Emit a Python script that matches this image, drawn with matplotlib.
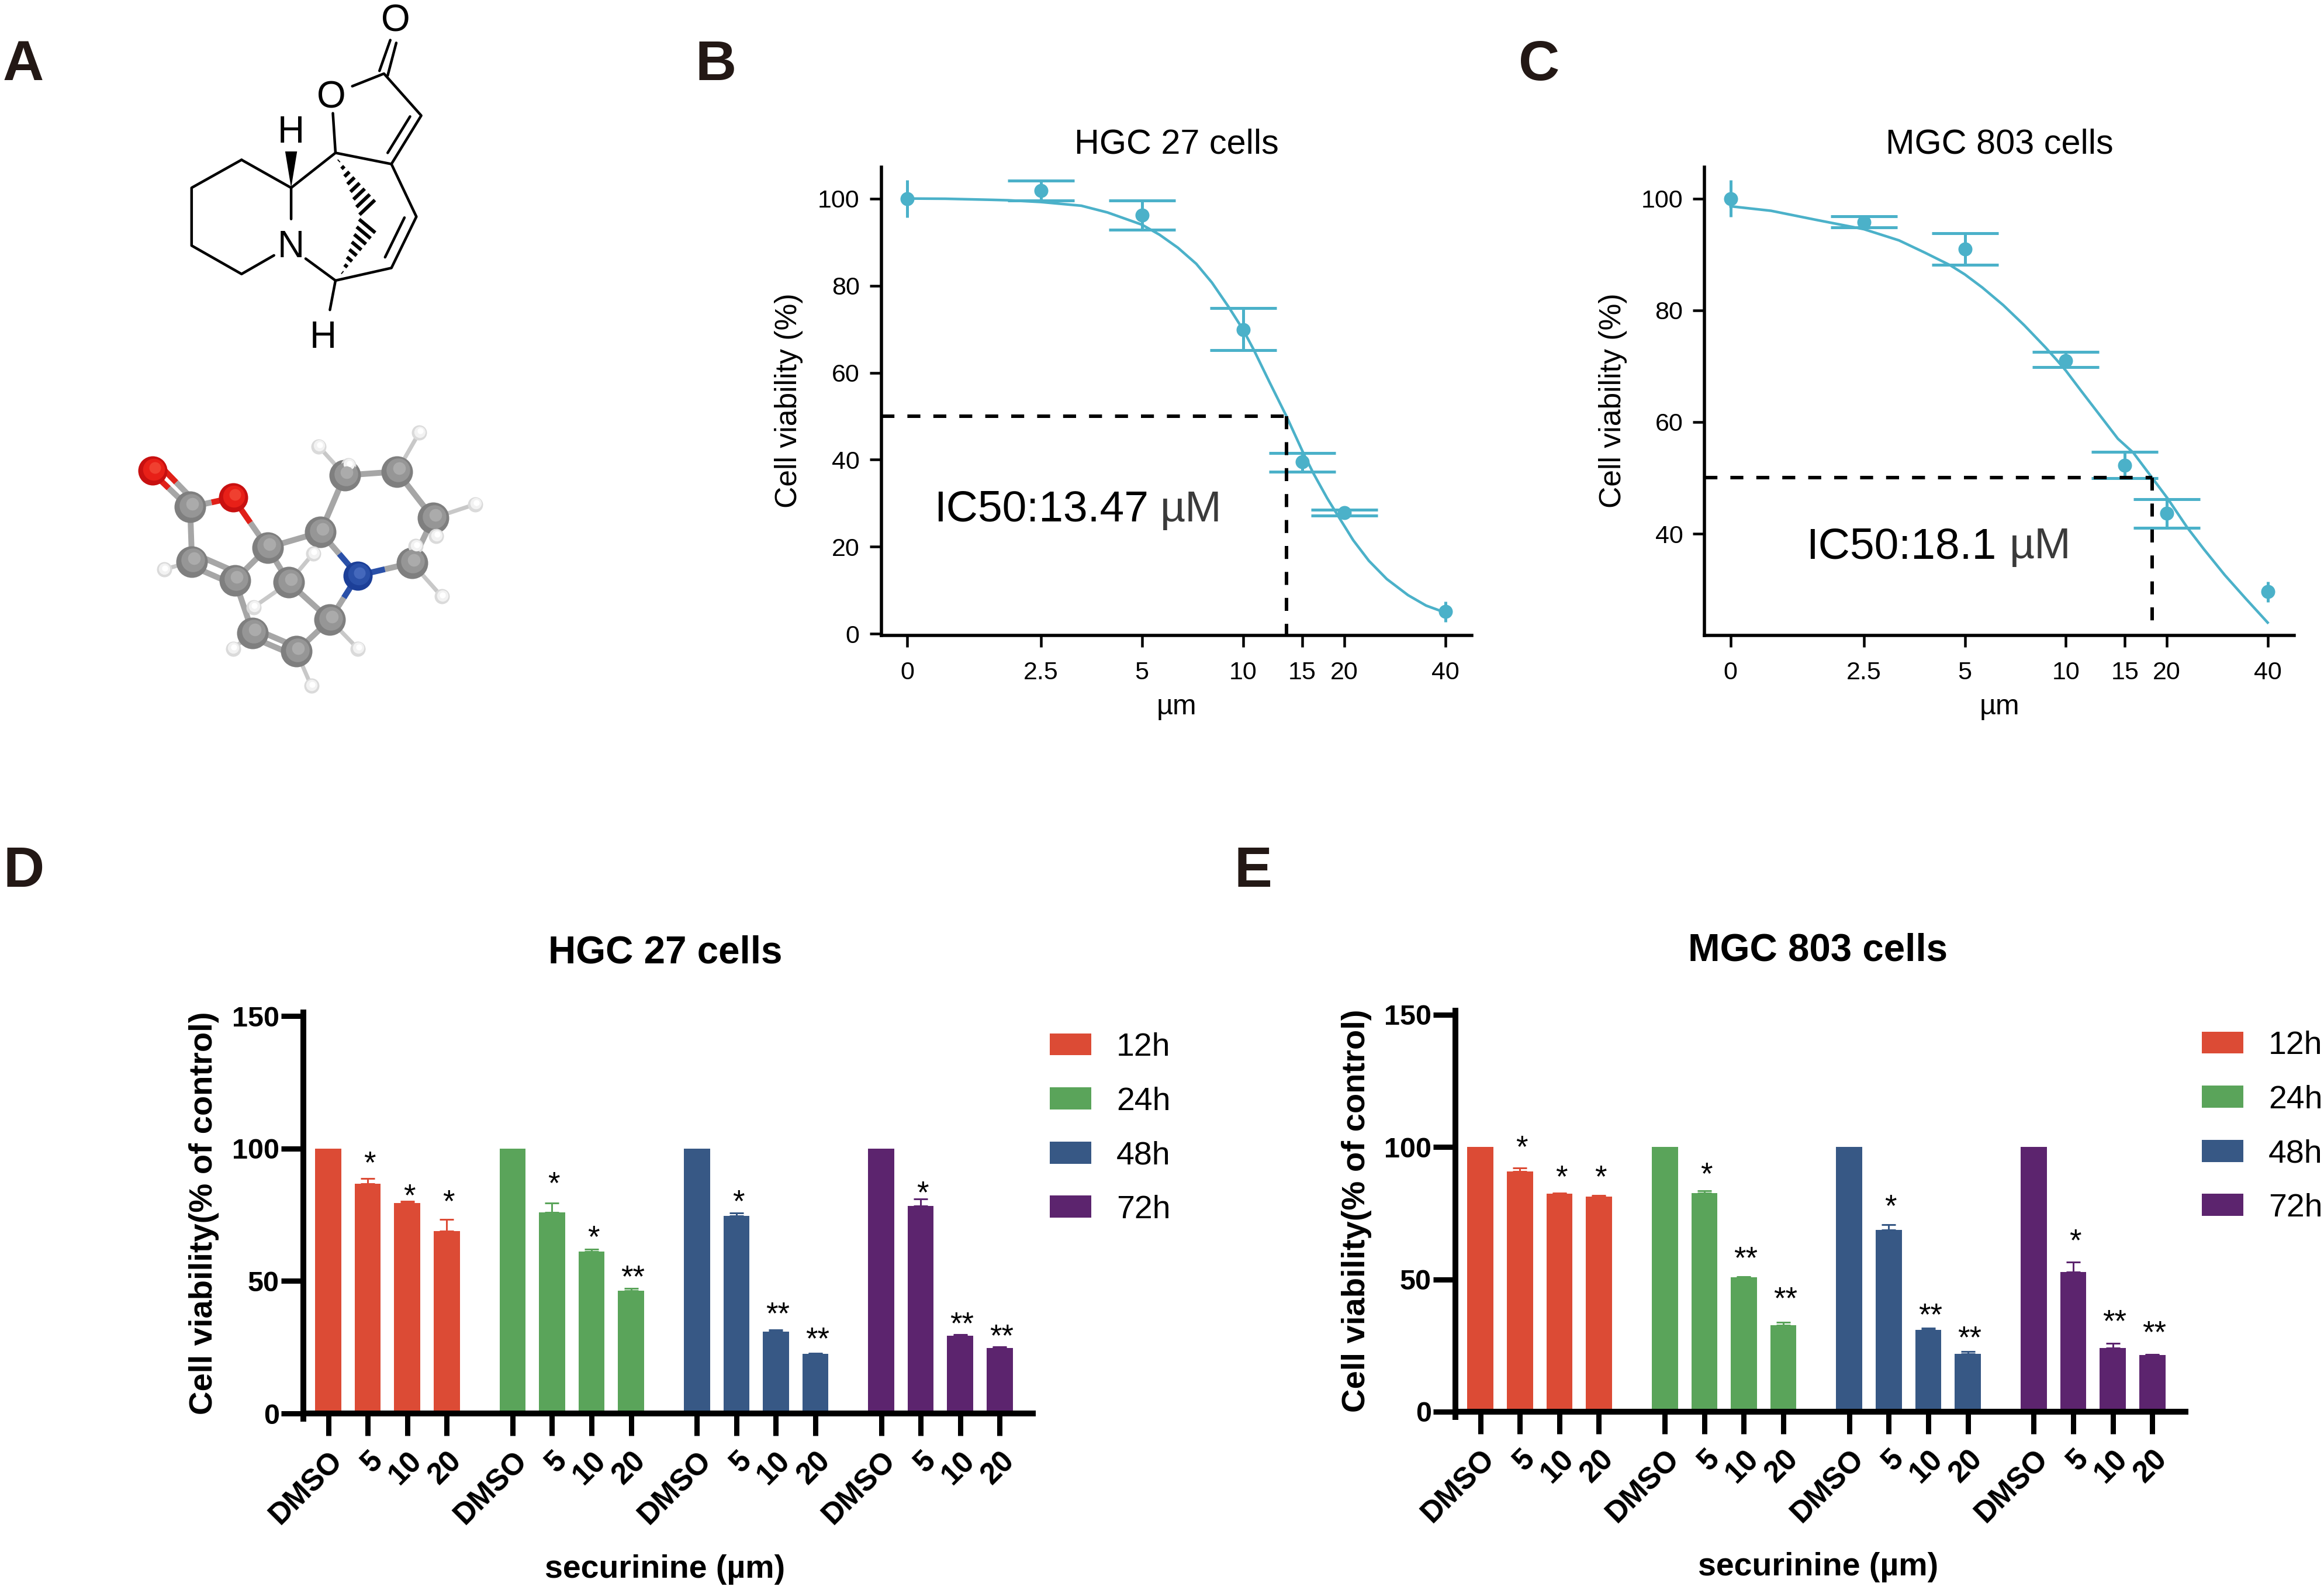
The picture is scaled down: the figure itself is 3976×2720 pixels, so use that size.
import numpy as np
import matplotlib
matplotlib.use('Agg')
import matplotlib.pyplot as plt
from matplotlib.patches import Patch, Polygon
from matplotlib.ticker import NullLocator
from matplotlib.transforms import ScaledTranslation

plt.rcParams['font.family'] = ['Liberation Sans', 'DejaVu Sans']

W, H = 3976, 2720
DPI = 200
PX = 72 / DPI   # one output pixel in points

# ---- dose response data (panels B, C)
dose_ticks = [0, 2.5, 5, 10, 15, 20, 40]
dose_labels = ['0', '2.5', '5', '10', '15', '20', '40']

b_mean = [100, 101.8, 96.2, 69.9, 39.5, 27.8, 5.1]
b_low = [95.7, 99.5, 92.8, 65.2, 37.3, 27.2, 2.7]
b_high = [104.3, 104.1, 99.5, 74.8, 41.6, 28.5, 7.5]
b_curve_x = [0, 1.3, 1.79, 2.0, 2.5, 3.3, 3.95, 5, 5.64, 6.4, 7.26, 8.08, 9.08, 10, 10.76, 11.98, 13.47, 15.13,
             16.2, 17.8, 19.3, 21.3, 23.7, 26.8, 31, 35.1, 40]
b_curve_y = [100, 99.95, 99.7, 99.6, 99.2, 98.35, 96.8, 94, 91.7, 88.7, 85, 80.7, 75, 69.9, 65.3, 57.9, 50, 41.5,
             36.9, 31.2, 26.8, 21.5, 16.8, 12.6, 8.9, 6.5, 4.9]
b_ic50 = 13.47

c_mean = [100, 95.8, 91, 71, 52.2, 43.7, 29.6]
c_low = [96.7, 94.8, 88.1, 69.8, 49.9, 41, 27.8]
c_high = [103.3, 96.8, 93.8, 72.5, 54.6, 46.2, 31.4]
c_curve_x = [0, 1.32, 1.79, 2.5, 3.18, 3.8, 4.52, 5, 5.64, 6.51, 7.52, 8.68, 9.33, 10, 11.1, 12.6, 14.3, 15.9,
             18.1, 20.1, 23, 25.8, 29.8, 34.4, 40]
c_curve_y = [98.6, 97.8, 96.2, 94.5, 92.5, 90.3, 88.05, 86.4, 84.05, 80.9, 77.3, 73.4, 71.3, 69.2, 65.6, 61.3, 57,
             54.5, 50, 46.35, 41.15, 37.25, 32.6, 28.4, 24.1]
c_ic50 = 18.1

# ---- bar data (panels D, E)
times = ['12h', '24h', '48h', '72h']
conc = ['DMSO', '5', '10', '20']
bar_colors = ['#DC4B35', '#5AA45A', '#375885', '#5C246E']

d_12h = [100, 86.8, 79.5, 68.8]
d_24h = [100, 76, 61.2, 46.3]
d_48h = [100, 74.7, 30.9, 22.5]
d_72h = [100, 78.3, 29.4, 24.7]
d_12h_top = [100, 88.7, 80.2, 73.2]
d_24h_top = [100, 79.5, 62, 47.3]
d_48h_top = [100, 75.8, 31.5, 22.8]
d_72h_top = [100, 81, 29.7, 25.2]
d_marks = [['', '*', '*', '*'], ['', '*', '*', '**'], ['', '*', '**', '**'], ['', '*', '**', '**']]
d_mark_y = [[0, 95.3, 82.9, 80.7], [0, 87.6, 67.3, 52.1], [0, 80.7, 38.2, 28.8], [0, 83.9, 34.6, 29.9]]

e_12h = [100, 90.9, 82.3, 81.3]
e_24h = [100, 82.7, 50.8, 32.6]
e_48h = [100, 68.8, 30.9, 21.8]
e_72h = [100, 52.7, 24, 21.4]
e_12h_top = [100, 92.2, 82.6, 81.8]
e_24h_top = [100, 83.5, 51.1, 33.8]
e_48h_top = [100, 70.6, 31.6, 22.8]
e_72h_top = [100, 56.5, 25.9, 21.7]
e_marks = [['', '*', '*', '*'], ['', '*', '**', '**'], ['', '*', '**', '**'], ['', '*', '**', '**']]
e_mark_y = [[0, 100.7, 89.3, 89.3], [0, 90.5, 58.6, 43.3], [0, 78.2, 37.2, 28.6], [0, 65.3, 34.8, 30.5]]

# ---- molecule drawing, panel A (coordinates on a 1568 x 1568 sketch grid)
skeleton = [[(648, 343), (514, 403), (514, 527), (648, 588), (735, 548)],
            [(648, 343), (781, 403), (781, 470)],
            [(781, 403), (900, 328), (893, 243)],
            [(945, 185), (1030, 158), (1130, 248), (1050, 352), (900, 328)],
            [(1100, 250), (1040, 328)],
            [(1050, 352), (1117, 465), (1050, 575), (900, 602), (820, 555)],
            [(1085, 467), (1033, 552)],
            [(900, 602), (885, 665)],
            [(1018, 152), (1047, 86)],
            [(1040, 162), (1063, 92)]]
atom_labels = [('O', 1062, 46), ('O', 888, 210), ('H', 781, 285), ('N', 781, 530), ('H', 867, 725)]

carbons = [(510, 1088), (515, 1205), (630, 1245), (718, 1175), (860, 1142), (925, 1020), (1065, 1012),
           (1162, 1112), (1105, 1208), (775, 1250), (885, 1330), (678, 1358), (795, 1398)]
oxygens = [(410, 1010), (625, 1068)]
nitrogens = [(960, 1235)]
hydrogens = [(855, 958), (935, 998), (1125, 928), (1275, 1082), (1170, 1150), (1115, 1172), (1185, 1280),
             (960, 1392), (840, 1188), (680, 1303), (440, 1222), (625, 1392), (835, 1472)]
sticks = [((510, 1088), (515, 1205)), ((630, 1245), (718, 1175)), ((718, 1175), (860, 1142)),
          ((718, 1175), (775, 1250)), ((860, 1142), (925, 1020)), ((925, 1020), (1065, 1012)),
          ((1065, 1012), (1162, 1112)), ((1162, 1112), (1105, 1208)), ((775, 1250), (885, 1330)),
          ((885, 1330), (795, 1398)), ((678, 1358), (630, 1245)), ((515, 1215), (630, 1255)),
          ((525, 1190), (640, 1230)), ((795, 1388), (678, 1348)), ((795, 1408), (678, 1368))]
color_sticks = [((510, 1088), (625, 1068), '#E02018'), ((718, 1175), (625, 1068), '#E02018'),
                ((495, 1080), (410, 1015), '#E02018'), ((515, 1070), (430, 1000), '#E02018'),
                ((1105, 1208), (960, 1235), '#2A50A8'), ((860, 1142), (960, 1235), '#2A50A8'),
                ((885, 1330), (960, 1235), '#2A50A8')]
h_bonds = [((925, 1020), (855, 958)), ((925, 1020), (935, 998)), ((1065, 1012), (1125, 928)),
           ((1162, 1112), (1275, 1082)), ((1162, 1112), (1170, 1150)), ((1105, 1208), (1115, 1172)),
           ((1105, 1208), (1185, 1280)), ((885, 1330), (960, 1392)), ((775, 1250), (840, 1188)),
           ((775, 1250), (680, 1303)), ((515, 1205), (440, 1222)), ((678, 1358), (625, 1392)),
           ((795, 1398), (835, 1472))]


def px_axes(left, top, right, bottom):
    return fig.add_axes([left / W, 1 - bottom / H, (right - left) / W, (bottom - top) / H])


def fig_text(x, y, s, **kw):
    kw.setdefault('ha', 'center')
    kw.setdefault('va', 'center')
    return fig.text(x / W, 1 - y / H, s, **kw)


def plot_x(values):
    # zero dose sits at 1 on the log axis
    return [v if v > 0 else 1 for v in values]


def dose_panel(ax, ylim, yticks, mean, low, high, cx, cy, ic50, dash_bottom):
    teal = '#4BB1C9'
    x = np.array(plot_x(dose_ticks))
    mean, low, high = np.array(mean), np.array(low), np.array(high)
    ax.set_xscale('log', base=2)
    ax.set_xlim(0.837, 48)
    ax.set_ylim(*ylim)
    ax.plot(plot_x(cx), cy, color=teal, lw=4.5 * PX, zorder=2)
    ax.errorbar(x[1:-1], mean[1:-1], yerr=[mean[1:-1] - low[1:-1], high[1:-1] - mean[1:-1]], fmt='none',
                ecolor=teal, elinewidth=5 * PX, capsize=57 * PX, capthick=5 * PX, zorder=2)
    ax.errorbar(x[[0, -1]], mean[[0, -1]], yerr=[(mean - low)[[0, -1]], (high - mean)[[0, -1]]], fmt='none',
                ecolor=teal, elinewidth=5 * PX, zorder=2)
    ax.plot(x, mean, 'o', color=teal, ms=24 * PX, mew=0, zorder=3)
    dash = (0, (3.7, 3.7))
    ax.plot([0.837, ic50], [50, 50], color='black', lw=6 * PX, ls=dash, zorder=4)
    ax.plot([ic50, ic50], [50, dash_bottom], color='black', lw=6 * PX, ls=dash, zorder=4)
    ax.set_xticks(x)
    ax.set_xticklabels(dose_labels)
    ax.xaxis.set_minor_locator(NullLocator())
    ax.set_yticks(yticks)
    ax.spines['top'].set_visible(False)
    ax.spines['right'].set_visible(False)
    ax.spines['left'].set_linewidth(5.5 * PX)
    ax.spines['bottom'].set_linewidth(5.5 * PX)
    ax.tick_params(axis='x', length=20 * PX, width=4.5 * PX, labelsize=15.5, pad=24 * PX)
    ax.tick_params(axis='y', length=20 * PX, width=4.5 * PX, labelsize=15.5, pad=17 * PX)


def bar_panel(ax, groups, tops, marks, mark_y):
    xs = []
    for g in range(4):
        pos = [g * 4.667 + i for i in range(4)]
        xs += pos
        vals = np.array(groups[g])
        ax.bar(pos, vals, width=0.66, color=bar_colors[g], linewidth=0, zorder=2)
        up = np.array(tops[g]) - vals
        ax.errorbar(pos[1:], vals[1:], yerr=[np.zeros(3), up[1:]], fmt='none', ecolor=bar_colors[g],
                    elinewidth=3 * PX, capsize=12 * PX, capthick=3 * PX, zorder=1)
        for p, m, my in zip(pos, marks[g], mark_y[g]):
            if m:
                ax.text(p + 0.05, my, m, ha='center', va='center_baseline', fontsize=19)
    ax.set_xlim(-0.63, 17.84)
    ax.set_ylim(0, 150)
    ax.set_yticks([0, 50, 100, 150])
    ax.set_xticks(xs)
    ax.set_xticklabels(conc * 4, rotation=45, ha='right', rotation_mode='anchor', fontweight='bold', fontsize=18.5)
    shift = ScaledTranslation(-6 / DPI, 0, fig.dpi_scale_trans)
    for lab in ax.get_xticklabels():
        lab.set_transform(lab.get_transform() + shift)
    for lab in ax.get_yticklabels():
        lab.set_fontweight('bold')
        lab.set_fontsize(17.5)
    ax.spines['top'].set_visible(False)
    ax.spines['right'].set_visible(False)
    ax.spines['left'].set_linewidth(10 * PX)
    ax.spines['bottom'].set_linewidth(10 * PX)
    ax.spines['left'].set_bounds(-2, 151.5)
    ax.tick_params(axis='x', length=38 * PX, width=9 * PX, pad=18 * PX)
    ax.tick_params(axis='y', length=38 * PX, width=9 * PX, pad=3 * PX)


fig = plt.figure(figsize=(W / DPI, H / DPI), dpi=DPI, facecolor='white')

# panel letters
for letter, x, y in [('A', 5, 112), ('B', 1190, 112), ('C', 2598, 112), ('D', 5, 1492), ('E', 2112, 1492)]:
    fig_text(x, y, letter, ha='left', fontsize=35, fontweight='bold', color='#231815')

# ---- panel A
mol = px_axes(0, 0, 1000, 1250)
mol.set_xlim(0, 1568)
mol.set_ylim(1568, 0)
mol.axis('off')
for path in skeleton:
    px, py = zip(*path)
    mol.plot(px, py, color='black', lw=4.5 * PX, solid_capstyle='round', solid_joinstyle='round')
mol.add_patch(Polygon([(781, 403), (765, 325), (797, 325)], color='black', lw=0))
for (ax0, ay0, ax1, ay1) in [(905, 340, 985, 445), (915, 590, 985, 485)]:
    dx, dy = ax1 - ax0, ay1 - ay0
    nx, ny = dy / np.hypot(dx, dy), -dx / np.hypot(dx, dy)
    for t in np.linspace(0.05, 1, 8):
        hw = 26 * t
        cx0, cy0 = ax0 + dx * t, ay0 + dy * t
        mol.plot([cx0 - nx * hw, cx0 + nx * hw], [cy0 - ny * hw, cy0 + ny * hw], color='black', lw=6 * PX,
                 solid_capstyle='butt')
for s, x, y in atom_labels:
    mol.text(x, y, s, fontsize=23, ha='center', va='center')

for a, b in h_bonds:
    mol.plot([a[0], b[0]], [a[1], b[1]], color='#C8C8C8', lw=7 * PX, solid_capstyle='butt', zorder=2)
for a, b in sticks:
    mol.plot([a[0], b[0]], [a[1], b[1]], color='#A6A6A6', lw=10 * PX, solid_capstyle='butt', zorder=3)
for a, b, c in color_sticks:
    mid = ((a[0] + b[0]) / 2, (a[1] + b[1]) / 2)
    mol.plot([a[0], mid[0]], [a[1], mid[1]], color='#A6A6A6', lw=10 * PX, solid_capstyle='butt', zorder=3)
    mol.plot([mid[0], b[0]], [mid[1], b[1]], color=c, lw=10 * PX, solid_capstyle='butt', zorder=3)


def balls(points, radius, base, light, hi):
    px_, py_ = zip(*points)
    px_, py_ = np.array(px_), np.array(py_)
    mol.scatter(px_, py_, s=(2 * radius * PX) ** 2, color=base, linewidths=0, zorder=5)
    mol.scatter(px_ + 0.1 * radius, py_ - 0.12 * radius, s=(1.5 * radius * PX) ** 2, color=light, linewidths=0, zorder=6)
    mol.scatter(px_ + 0.2 * radius, py_ - 0.25 * radius, s=(0.8 * radius * PX) ** 2, color=hi, linewidths=0, zorder=7)


balls(carbons, 27, '#7F7F7F', '#969696', '#ABABAB')
balls(oxygens, 25, '#C81010', '#E82018', '#F04030')
balls(nitrogens, 25, '#1C3F98', '#2A50A8', '#4468BC')
balls(hydrogens, 13, '#DADADA', '#F2F2F2', '#FFFFFF')

# ---- panel B
ax_b = px_axes(1507.6, 286, 2518, 1087)
dose_panel(ax_b, (-0.35, 107.2), [0, 20, 40, 60, 80, 100], b_mean, b_low, b_high, b_curve_x, b_curve_y, b_ic50, -0.35)
fig_text(2013, 247, 'HGC 27 cells', fontsize=21.4)
fig_text(2013, 1209, 'µm', fontsize=17.5)
fig_text(1349, 685, 'Cell viability (%)', fontsize=18.6, rotation=90)
fig_text(1598, 892, 'IC50:13.47', ha='left', va='baseline', fontsize=27)
fig_text(1985, 892, 'µM', ha='left', va='baseline', fontsize=27, color='#3A3A3A')

# ---- panel C
ax_c = px_axes(2916.4, 286, 3925, 1087)
dose_panel(ax_c, (21.8, 105.6), [40, 60, 80, 100], c_mean, c_low, c_high, c_curve_x, c_curve_y, c_ic50, 24.2)
fig_text(3421, 247, 'MGC 803 cells', fontsize=21.4)
fig_text(3421, 1209, 'µm', fontsize=17.5)
fig_text(2759, 685, 'Cell viability (%)', fontsize=18.6, rotation=90)
fig_text(3090, 955, 'IC50:18.1', ha='left', va='baseline', fontsize=27)
fig_text(3438, 955, 'µM', ha='left', va='baseline', fontsize=27, color='#3A3A3A')

# ---- panel D
ax_d = px_axes(519, 1738.4, 1767, 2418)
bar_panel(ax_d, [d_12h, d_24h, d_48h, d_72h], [d_12h_top, d_24h_top, d_48h_top, d_72h_top], d_marks, d_mark_y)
fig_text(1138, 1630, 'HGC 27 cells', fontsize=23.6, fontweight='bold')
fig_text(1138, 2685, 'securinine (µm)', fontsize=20, fontweight='bold')
fig_text(349, 2075, 'Cell viability(% of control)', fontsize=20.2, fontweight='bold', rotation=90)

# ---- panel E
ax_e = px_axes(2490, 1736, 3739, 2415)
bar_panel(ax_e, [e_12h, e_24h, e_48h, e_72h], [e_12h_top, e_24h_top, e_48h_top, e_72h_top], e_marks, e_mark_y)
fig_text(3110, 1627, 'MGC 803 cells', fontsize=23.6, fontweight='bold')
fig_text(3111, 2681, 'securinine (µm)', fontsize=20, fontweight='bold')
fig_text(2321, 2071, 'Cell viability(% of control)', fontsize=20.2, fontweight='bold', rotation=90)

# legends
handles = [Patch(color=c, lw=0, label=t) for c, t in zip(bar_colors, times)]
for ax, lx, ly in [(ax_d, 1796, 1766), (ax_e, 3767, 1763)]:
    ax.legend(handles=handles, loc='upper left', bbox_to_anchor=(lx / W, 1 - ly / H), bbox_transform=fig.transFigure,
              frameon=False, fontsize=20, borderpad=0, borderaxespad=0, handlelength=1.28, handleheight=0.67,
              handletextpad=0.77, labelspacing=0.73)

fig.savefig('out.png', dpi=DPI)
